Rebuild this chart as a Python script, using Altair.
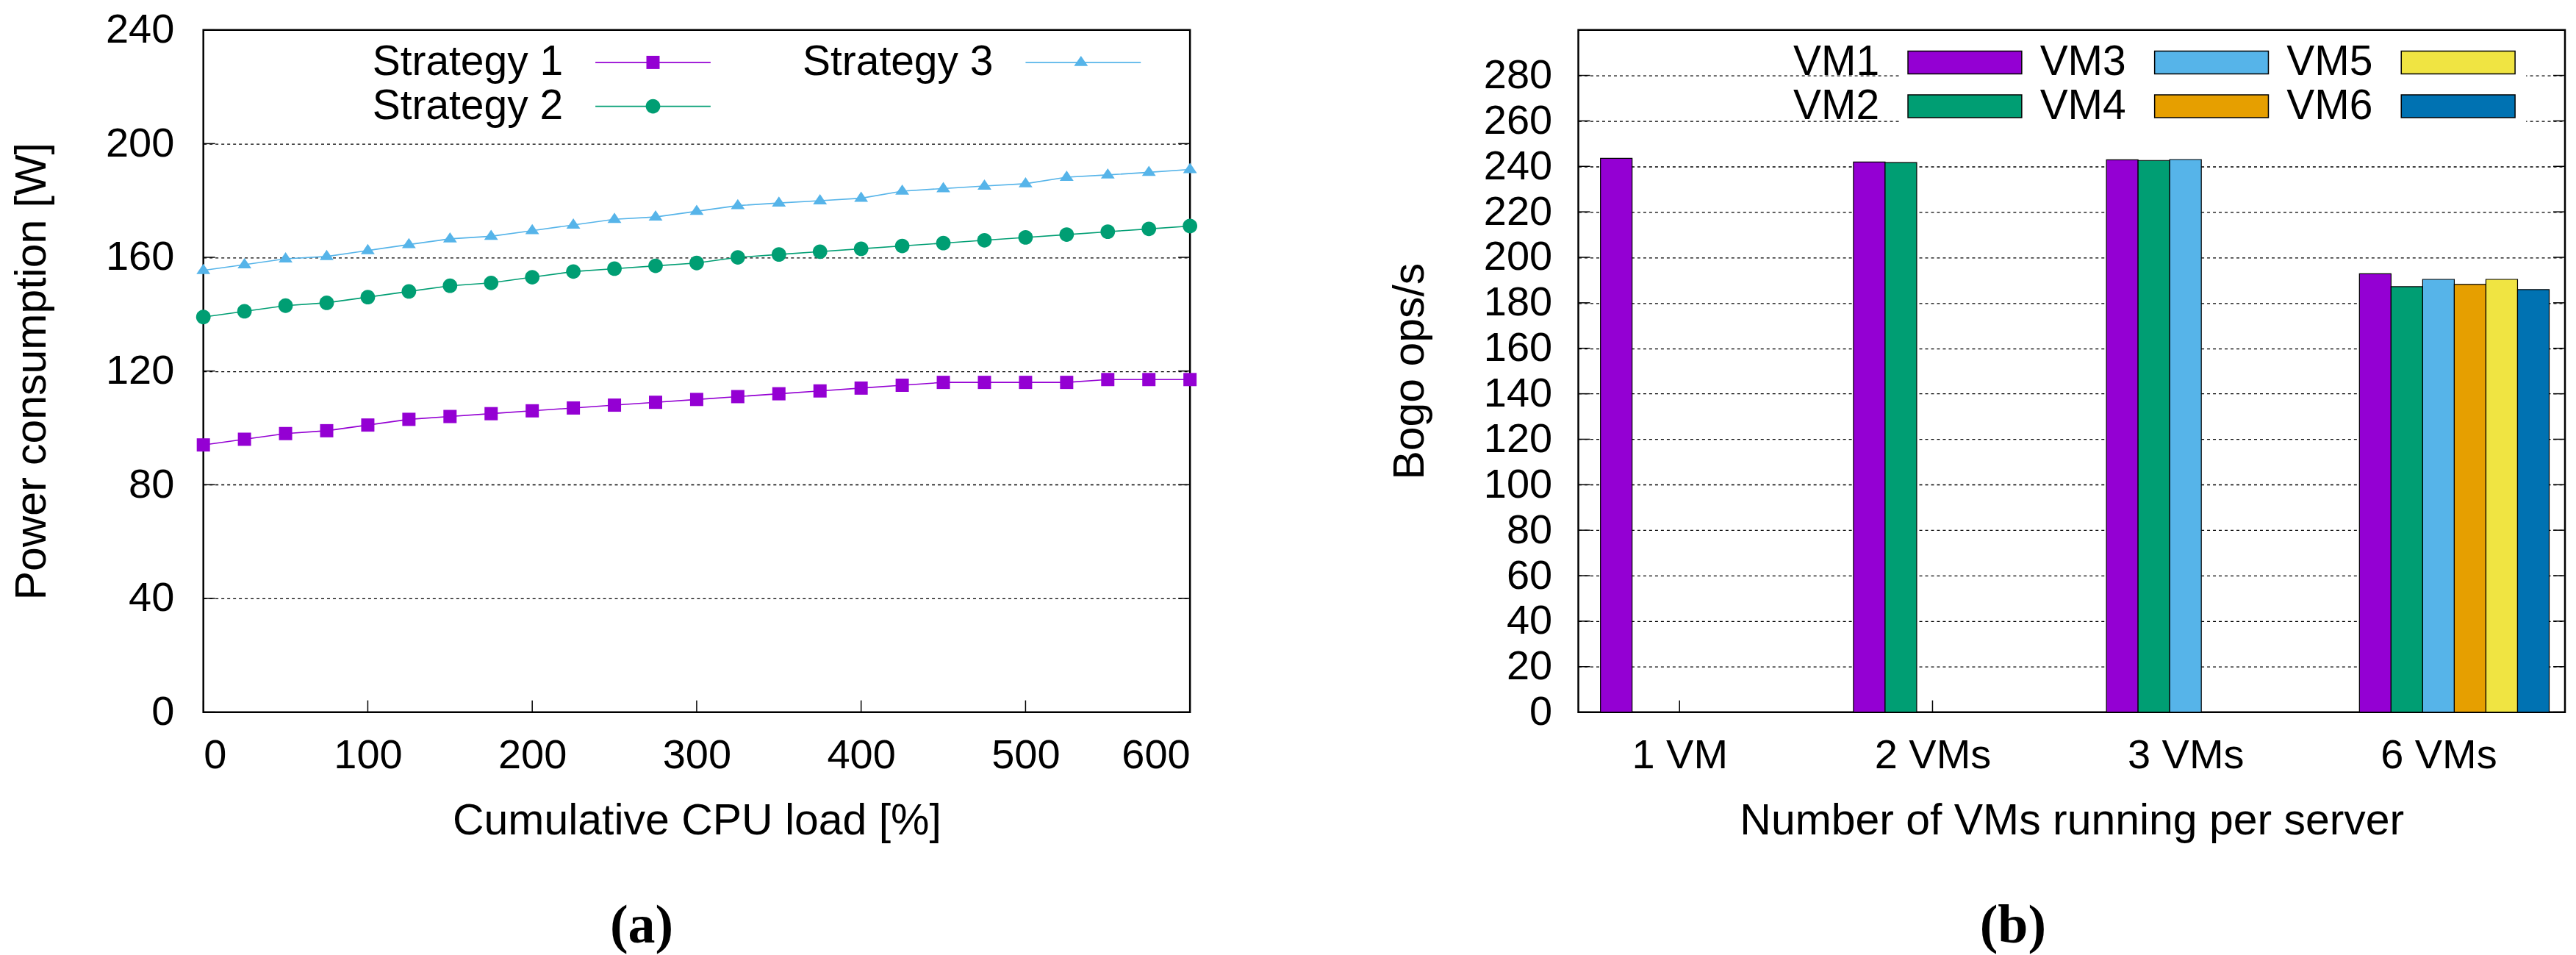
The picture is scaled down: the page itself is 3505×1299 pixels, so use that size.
import json
import altair as alt
import pandas as pd

# ---------------- data: panel (a) ----------------
cpu_load = [0, 25, 50, 75, 100, 125, 150, 175, 200, 225, 250, 275, 300,
            325, 350, 375, 400, 425, 450, 475, 500, 525, 550, 575, 600]
strategy_1 = [94, 96, 98, 99, 101, 103, 104, 105, 106, 107, 108, 109, 110,
              111, 112, 113, 114, 115, 116, 116, 116, 116, 117, 117, 117]
strategy_2 = [139, 141, 143, 144, 146, 148, 150, 151, 153, 155, 156, 157, 158,
              160, 161, 162, 163, 164, 165, 166, 167, 168, 169, 170, 171]
strategy_3 = [155.4, 157.4, 159.5, 160.3, 162.4, 164.5, 166.5, 167.4, 169.4,
              171.4, 173.4, 174.2, 176.2, 178.2, 179.1, 179.9, 180.8, 183.3,
              184.2, 185.1, 185.9, 188.2, 189.0, 189.9, 190.9]
series_names = ["Strategy 1", "Strategy 2", "Strategy 3"]
series_colors = ["#9400d3", "#009e73", "#56b4e9"]
power_ticks = [0, 40, 80, 120, 160, 200, 240]
cpu_ticks = [0, 100, 200, 300, 400, 500, 600]

# ---------------- data: panel (b) ----------------
vm_groups = ["1 VM", "2 VMs", "3 VMs", "6 VMs"]
vm_names = ["VM1", "VM2", "VM3", "VM4", "VM5", "VM6"]
vm_colors = ["#9400d3", "#009e73", "#56b4e9", "#e69f00", "#f0e442", "#0072b2"]
bogo_1vm = [243.5]
bogo_2vm = [241.9, 241.7]
bogo_3vm = [242.9, 242.6, 243.0]
bogo_6vm = [192.8, 187.1, 190.3, 188.1, 190.3, 185.8]
bogo_ticks = [0, 20, 40, 60, 80, 100, 120, 140, 160, 180, 200, 220, 240, 260, 280]
group_ticks = [0, 1, 2, 3]

# ---------------- styling ----------------
W, H = 1344, 929
FONT = "Liberation Sans"
LABEL_FS = 56
TITLE_FS = 59
LEGEND_FS = 57
ZW = "\u200b"  # zero-width suffix keeps the marker key separate from the line key

marker_paths = [
    "M-1,-1H1V1H-1Z",
    "M-1.1,0A1.1,1.1,0,1,0,1.1,0A1.1,1.1,0,1,0,-1.1,0Z",
    "M0,-1L1.05,0.55H-1.05Z",
]
LEGEND_LINE = "M-8.72,0H8.72"

# ---------------- panel (a) ----------------
power_df = pd.DataFrame({
    "load": cpu_load * 3,
    "power": strategy_1 + strategy_2 + strategy_3,
    "series": sum([[s] * len(cpu_load) for s in series_names], []),
})
marker_domain = [s + ZW for s in series_names]

xs = alt.Scale(domain=[0, 600], nice=False, zero=False)
ys = alt.Scale(domain=[0, 240], nice=False)
ax_xa = alt.Axis(values=cpu_ticks, title="Cumulative CPU load [%]",
                 grid=False, labelPadding=32, titlePadding=32)
ax_ya = alt.Axis(values=power_ticks, title="Power consumption [W]",
                 grid=True, labelPadding=40, titlePadding=70)

x_a = alt.X("load:Q", scale=xs, axis=ax_xa)
y_a = alt.Y("power:Q", scale=ys, axis=ax_ya)

common_leg = dict(
    title=None, orient="none", legendX=535, legendY=15.5, columns=2,
    labelAlign="right", labelOffset={"expr": "-151"}, symbolOffset=49,
    labelFontSize=LEGEND_FS, labelFont=FONT, labelColor="black", labelLimit=1000,
    symbolSize=324, rowPadding=2, padding=0,
)
# line part of the key (with visible labels)
leg_lines = alt.Legend(symbolType=LEGEND_LINE, symbolStrokeWidth=1.6,
                       columnPadding=121, **common_leg)
# marker part of the key, laid over the line part
leg_points = alt.Legend(labelOpacity=0, symbolStrokeWidth=0,
                        columnPadding=190, **common_leg)

lines = alt.Chart(power_df).mark_line(strokeWidth=1.6).encode(
    x=x_a, y=y_a,
    color=alt.Color("series:N", scale=alt.Scale(domain=series_names, range=series_colors),
                    legend=leg_lines),
)

points = alt.Chart(power_df).transform_calculate(
    marker=f"datum.series + '{ZW}'"
).mark_point(filled=True, size=324, opacity=1).encode(
    x=x_a, y=y_a,
    fill=alt.Fill("marker:N", scale=alt.Scale(domain=marker_domain, range=series_colors),
                  legend=leg_points),
    shape=alt.Shape("marker:N", scale=alt.Scale(domain=marker_domain, range=marker_paths),
                    legend=leg_points),
)

ytick_a = pd.DataFrame({"power": power_ticks})
xtick_a = pd.DataFrame({"load": cpu_ticks})
ytl_a = alt.Chart(ytick_a).mark_rule(color="black", strokeWidth=1.5).encode(
    y=y_a, x=alt.value(0), x2=alt.value(16))
ytr_a = alt.Chart(ytick_a).mark_rule(color="black", strokeWidth=1.5).encode(
    y=y_a, x=alt.value(W - 16), x2=alt.value(W))
xt_a = alt.Chart(xtick_a).mark_rule(color="black", strokeWidth=1.5).encode(
    x=x_a, y=alt.value(H), y2=alt.value(H - 16))

panel_a = alt.layer(ytl_a, ytr_a, xt_a, lines, points).properties(
    width=W, height=H,
    title=alt.TitleParams("(a)", orient="bottom", anchor="middle", frame="group", dx=-75),
)

# ---------------- panel (b) ----------------
rows = []
for gi, vals in enumerate([bogo_1vm, bogo_2vm, bogo_3vm, bogo_6vm]):
    for vi, v in enumerate(vals):
        rows.append({"group": vm_groups[gi], "gi": gi, "vm": vm_names[vi], "vi": vi, "ops": v})
bogo_df = pd.DataFrame(rows)

xs_b = alt.Scale(domain=[-0.4, 3.5], nice=False, zero=False)
ys_b = alt.Scale(domain=[0, 300], nice=False)
ax_xb = alt.Axis(values=group_ticks, labelExpr=json.dumps(vm_groups) + "[datum.value]",
                 title="Number of VMs running per server", grid=False,
                 labelPadding=32, titlePadding=32)
ax_yb = alt.Axis(values=bogo_ticks, title="Bogo ops/s", grid=True,
                 labelPadding=36, titlePadding=70)

leg_b = alt.Legend(
    title=None, orient="none", legendX=437, legendY=3.5, columns=3,
    symbolType="M-5,-1H5V1H-5Z", symbolSize=961,
    symbolStrokeColor="black", symbolStrokeWidth=1.5,
    labelAlign="right", labelOffset={"expr": "-145"}, symbolOffset=49,
    labelFontSize=LEGEND_FS, labelFont=FONT, labelColor="black", labelLimit=1000,
    rowPadding=2, columnPadding=21, padding=12, fillColor="white",
)

bars = alt.Chart(bogo_df).transform_calculate(
    gx0="datum.gi + (datum.vi - 2.5) / 8",
    gx1="datum.gi + (datum.vi - 1.5) / 8",
).mark_rect(stroke="black", strokeWidth=1.2).encode(
    x=alt.X("gx0:Q", scale=xs_b, axis=ax_xb),
    x2="gx1:Q",
    y=alt.Y("ops:Q", scale=ys_b, axis=ax_yb),
    y2=alt.datum(0),
    fill=alt.Fill("vm:N", scale=alt.Scale(domain=vm_names, range=vm_colors), legend=leg_b),
)

ytick_b = pd.DataFrame({"ops": bogo_ticks})
xtick_b = pd.DataFrame({"gx0": group_ticks})
ytl_b = alt.Chart(ytick_b).mark_rule(color="black", strokeWidth=1.5).encode(
    y=alt.Y("ops:Q", scale=ys_b, axis=ax_yb), x=alt.value(0), x2=alt.value(16))
ytr_b = alt.Chart(ytick_b).mark_rule(color="black", strokeWidth=1.5).encode(
    y=alt.Y("ops:Q", scale=ys_b, axis=ax_yb), x=alt.value(W - 16), x2=alt.value(W))
xt_b = alt.Chart(xtick_b).mark_rule(color="black", strokeWidth=1.5).encode(
    x=alt.X("gx0:Q", scale=xs_b, axis=ax_xb), y=alt.value(H), y2=alt.value(H - 16))

panel_b = alt.layer(ytl_b, ytr_b, xt_b, bars).properties(
    width=W, height=H,
    title=alt.TitleParams("(b)", orient="bottom", anchor="middle", frame="group", dx=-80),
)

chart = alt.hconcat(panel_a, panel_b, spacing=529, bounds="flush").resolve_scale(
    color="independent", shape="independent", fill="independent", stroke="independent"
).properties(
    padding={"left": 5, "top": 2, "right": 5, "bottom": 0}
).configure(
    font=FONT
).configure_view(
    stroke="black", strokeWidth=2.5
).configure_axis(
    labelFont=FONT, titleFont=FONT, labelFontSize=LABEL_FS, titleFontSize=TITLE_FS,
    labelColor="black", titleColor="black", titleFontWeight="normal",
    domain=False, ticks=False, gridColor="black", gridDash=[4, 4], gridWidth=1.3,
    gridOpacity=1,
).configure_title(
    font="Liberation Serif", fontSize=74, fontWeight="bold", color="black", offset=78,
)

chart.save("out.html", embed_options={"renderer": "svg", "actions": False})
